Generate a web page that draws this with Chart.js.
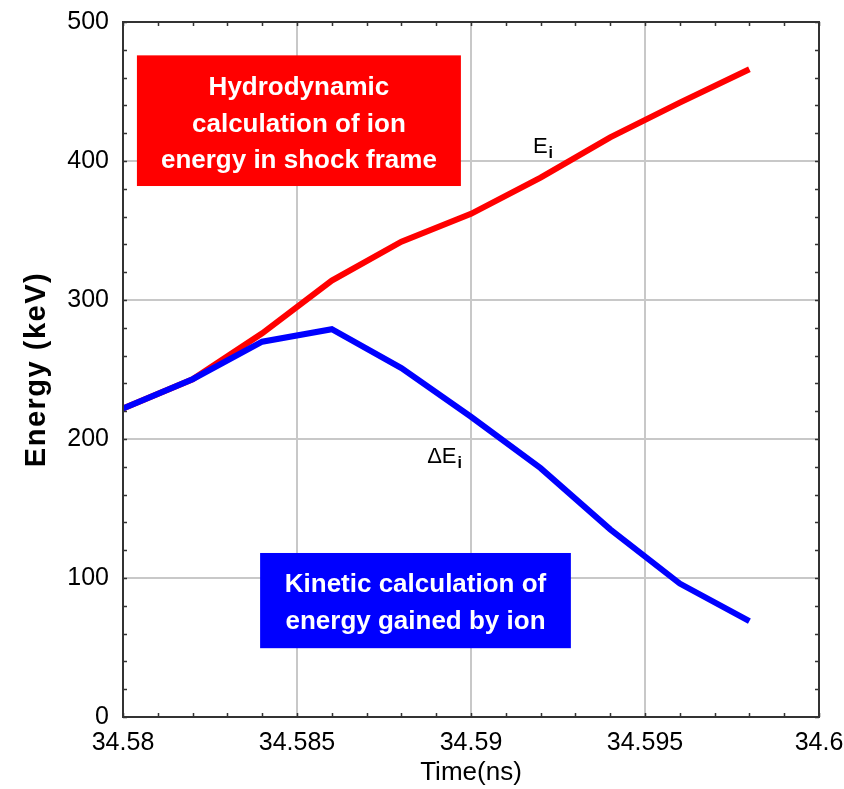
<!DOCTYPE html>
<html>
<head>
<meta charset="utf-8">
<script src="https://cdn.jsdelivr.net/npm/chart.js@4.4.1/dist/chart.umd.min.js"></script>
<style>
html, body { margin: 0; padding: 0; background: #fff; }
</style>
</head>
<body>
<canvas id="energyChart" width="844" height="789"></canvas>
<script>
// values
const times = [34.58, 34.582, 34.584, 34.586, 34.588, 34.59, 34.592, 34.594, 34.596, 34.598];
const ionEnergy = [222, 243, 276, 314, 342, 362, 388, 417, 442, 466];     // E_i (hydro, red)
const gainedEnergy = [222, 243, 270, 279, 251, 216, 179, 135, 96, 69];    // dE_i (kinetic, blue)
const xRange = [34.58, 34.6];
const yRange = [0, 500];
const xLabels = ['34.58', '34.585', '34.59', '34.595', '34.6'];

const FONT = '"Liberation Sans", Arial, sans-serif';

function isMajorX(v) {
  return Math.abs(v * 200 - Math.round(v * 200)) < 1e-6;
}

// frame, inward tick marks, boxes and labels
const decor = {
  id: 'decor',
  afterDraw(chart) {
    const ctx = chart.ctx;
    const a = chart.chartArea;
    const xs = chart.scales.x, ys = chart.scales.y;
    ctx.save();
    ctx.strokeStyle = '#333';
    ctx.lineWidth = 1.5;
    ctx.beginPath();
    xs.ticks.forEach(t => {
      const px = Math.round(xs.getPixelForValue(t.value)) + 0.5;
      ctx.moveTo(px, a.bottom); ctx.lineTo(px, a.bottom - 4);
      ctx.moveTo(px, a.top); ctx.lineTo(px, a.top + 4);
    });
    ys.ticks.forEach(t => {
      const py = Math.round(ys.getPixelForValue(t.value)) + 0.5;
      ctx.moveTo(a.left, py); ctx.lineTo(a.left + 4, py);
      ctx.moveTo(a.right, py); ctx.lineTo(a.right - 4, py);
    });
    ctx.stroke();
    ctx.lineWidth = 2;
    ctx.strokeRect(a.left, a.top, a.right - a.left, a.bottom - a.top);

    // text boxes
    function box(x0, x1, y0, y1, color, lines, firstBase, step) {
      const l = xs.getPixelForValue(x0), r = xs.getPixelForValue(x1);
      const t = ys.getPixelForValue(y0), b = ys.getPixelForValue(y1);
      ctx.fillStyle = color;
      ctx.fillRect(l, t, r - l, b - t);
      ctx.fillStyle = '#fff';
      ctx.font = 'bold 26px ' + FONT;
      ctx.textAlign = 'center';
      ctx.textBaseline = 'alphabetic';
      lines.forEach((s, i) => ctx.fillText(s, (l + r) / 2, t + firstBase + i * step));
    }
    box(34.5804, 34.58971, 476, 382, '#ff0000',
      ['Hydrodynamic', 'calculation of ion', 'energy in shock frame'], 40, 36.5);
    box(34.58394, 34.59287, 118, 49.5, '#0000ff',
      ['Kinetic calculation of', 'energy gained by ion'], 39, 37);

    // curve labels
    function sub(main, subs, xv, yv) {
      const x = xs.getPixelForValue(xv), y = ys.getPixelForValue(yv);
      ctx.fillStyle = '#000';
      ctx.textAlign = 'left';
      ctx.textBaseline = 'alphabetic';
      ctx.font = '22px ' + FONT;
      ctx.fillText(main, x, y);
      const w = ctx.measureText(main).width;
      ctx.font = 'bold 16px ' + FONT;
      ctx.fillText(subs, x + w + 1, y + 5);
    }
    sub('E', 'i', 34.59178, 406);
    sub('\u0394E', 'i', 34.58874, 183);

    // y axis title
    ctx.translate(37, (a.top + a.bottom) / 2);
    ctx.rotate(-Math.PI / 2);
    ctx.fillStyle = '#000';
    ctx.font = 'bold 29px ' + FONT;
    ctx.letterSpacing = '1.5px';
    ctx.textAlign = 'center';
    ctx.textBaseline = 'middle';
    ctx.fillText('Energy (keV)', 0, 0);
    ctx.restore();
  }
};

const ctx = document.getElementById('energyChart').getContext('2d');
Chart.defaults.color = '#000';
Chart.defaults.font.family = FONT;

new Chart(ctx, {
  type: 'line',
  data: {
    datasets: [
      {
        label: 'dEi',
        data: times.map((t, i) => ({ x: t, y: gainedEnergy[i] })),
        borderColor: '#0000ff',
        borderWidth: 6,
        pointRadius: 0,
        tension: 0,
        order: 0
      },
      {
        label: 'Ei',
        data: times.map((t, i) => ({ x: t, y: ionEnergy[i] })),
        borderColor: '#ff0000',
        borderWidth: 6,
        pointRadius: 0,
        tension: 0,
        order: 1
      }
    ]
  },
  options: {
    responsive: false,
    animation: false,
    layout: { autoPadding: false, padding: { top: 22, right: 25, left: 0, bottom: 0 } },
    plugins: { legend: { display: false }, tooltip: { enabled: false } },
    scales: {
      x: {
        type: 'linear',
        min: xRange[0], max: xRange[1],
        afterFit: s => {
          s.height = 72;
          s.paddingLeft = 0; s.paddingRight = 0;
        },
        border: { display: false },
        grid: {
          drawTicks: false,
          lineWidth: 2,
          color: c => isMajorX(c.tick.value) ? '#c8c8c8' : 'rgba(0,0,0,0)'
        },
        ticks: {
          stepSize: 0.001,
          maxTicksLimit: 50,
          autoSkip: false,
          maxRotation: 0,
          padding: 11,
          font: { size: 25 },
          callback: v => isMajorX(v) ? xLabels[Math.round((v - xRange[0]) * 200)] : ''
        },
        title: { display: true, text: 'Time(ns)', font: { size: 26 }, padding: { top: 0, bottom: 1 } }
      },
      y: {
        min: yRange[0], max: yRange[1],
        afterFit: s => {
          s.width = 123;
          s.paddingTop = 0; s.paddingBottom = 0;
        },
        border: { display: false },
        grid: {
          drawTicks: false,
          lineWidth: 2,
          color: c => c.tick.value % 100 === 0 ? '#c8c8c8' : 'rgba(0,0,0,0)'
        },
        ticks: {
          stepSize: 20,
          autoSkip: false,
          padding: 14,
          font: { size: 25 },
          callback: v => v % 100 === 0 ? v : ''
        }
      }
    }
  },
  plugins: [decor]
});
</script>
</body>
</html>
